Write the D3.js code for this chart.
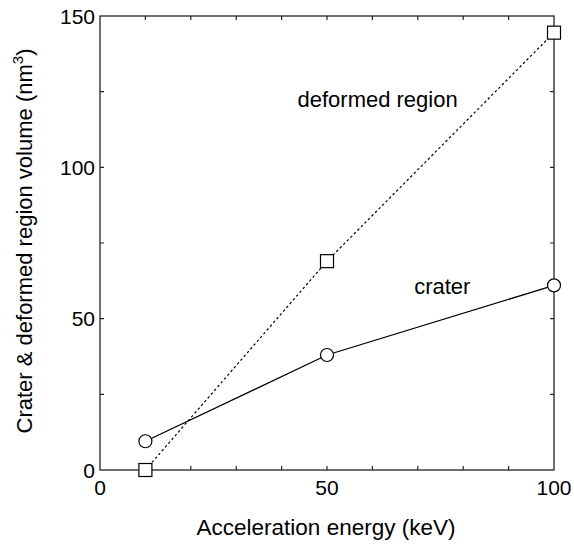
<!DOCTYPE html>
<html lang="en">
<head>
<meta charset="UTF-8">
<script src="https://d3js.org/d3.v7.min.js"></script>
<style>
  body { margin: 0; background: #fff; }
  text { font-family: "Liberation Sans", Arial, sans-serif; fill: #000; }
</style>
</head>
<body>
<div id="chart"></div>
<script>
// data
const energy = [10, 50, 100];
const craterVol = [9.5, 38, 61];
const deformedVol = [0, 69, 144.5];
const xTicks = [0, 50, 100];
const yTicks = [0, 50, 100, 150];

const W = 574, H = 544;
const margin = { top: 16, right: 20, bottom: 74, left: 100 };
const width = W - margin.left - margin.right;
const height = H - margin.top - margin.bottom;

const svg = d3.select("#chart").append("svg")
    .attr("width", W)
    .attr("height", H);

const g = svg.append("g")
    .attr("transform", `translate(${margin.left},${margin.top})`);

const x = d3.scaleLinear().domain([0, 100]).range([0, width]);
const y = d3.scaleLinear().domain([0, 150]).range([height, 0]);

// frame
g.append("rect")
    .attr("width", width).attr("height", height)
    .attr("fill", "none").attr("stroke", "#222").attr("stroke-width", 1.3);

// minor ticks inside, on all four sides
const xMinor = d3.range(10, 100, 10);
const yMinor = d3.range(25, 150, 25);
const tk = 4;
g.selectAll(".xt").data(xMinor).enter().append("path")
    .attr("d", d => `M${x(d)},${height}v${-tk}M${x(d)},0v${tk}`)
    .attr("stroke", "#222").attr("stroke-width", 1.2);
g.selectAll(".yt").data(yMinor).enter().append("path")
    .attr("d", d => `M0,${y(d)}h${tk}M${width},${y(d)}h${-tk}`)
    .attr("stroke", "#222").attr("stroke-width", 1.2);

// tick labels
g.append("g").selectAll("text").data(xTicks).enter().append("text")
    .attr("x", d => x(d)).attr("y", height + 25)
    .attr("text-anchor", "middle").style("font-size", "21px")
    .text(d => d);
g.append("g").selectAll("text").data(yTicks).enter().append("text")
    .attr("x", -5).attr("y", d => y(d) + 7.5)
    .attr("text-anchor", "end").style("font-size", "21px")
    .text(d => d);

// axis titles
svg.append("text")
    .attr("x", 326).attr("y", 535)
    .attr("text-anchor", "middle").style("font-size", "22.5px")
    .text("Acceleration energy (keV)");

const yl = svg.append("text")
    .attr("transform", `translate(32,${margin.top + height / 2 - 2}) rotate(-90)`)
    .attr("text-anchor", "middle").style("font-size", "22px");
yl.append("tspan").text("Crater & deformed region volume (nm");
yl.append("tspan").attr("dy", -9).style("font-size", "15px").text("3");
yl.append("tspan").attr("dy", 9).text(")");

const pts = (ys) => energy.map((e, i) => [e, ys[i]]);
const line = d3.line().x(d => x(d[0])).y(d => y(d[1]));

// deformed region (dotted, squares)
g.append("path").datum(pts(deformedVol))
    .attr("d", line).attr("fill", "none")
    .attr("stroke", "#000").attr("stroke-width", 1.2)
    .attr("stroke-dasharray", "2.5,2.5");
g.selectAll(".sq").data(pts(deformedVol)).enter().append("rect")
    .attr("x", d => x(d[0]) - 6.5).attr("y", d => y(d[1]) - 6.5)
    .attr("width", 13).attr("height", 13)
    .attr("fill", "#fff").attr("stroke", "#000").attr("stroke-width", 1.2);

// crater (solid, circles)
g.append("path").datum(pts(craterVol))
    .attr("d", line).attr("fill", "none")
    .attr("stroke", "#000").attr("stroke-width", 1.3);
g.selectAll(".ci").data(pts(craterVol)).enter().append("circle")
    .attr("cx", d => x(d[0])).attr("cy", d => y(d[1])).attr("r", 6.5)
    .attr("fill", "#fff").attr("stroke", "#000").attr("stroke-width", 1.2);

// in-plot labels
g.append("text").attr("x", x(43.5)).attr("y", y(119.9))
    .style("font-size", "22px").text("deformed region");
g.append("text").attr("x", x(69.2)).attr("y", y(58.1))
    .style("font-size", "22px").text("crater");
</script>
</body>
</html>
